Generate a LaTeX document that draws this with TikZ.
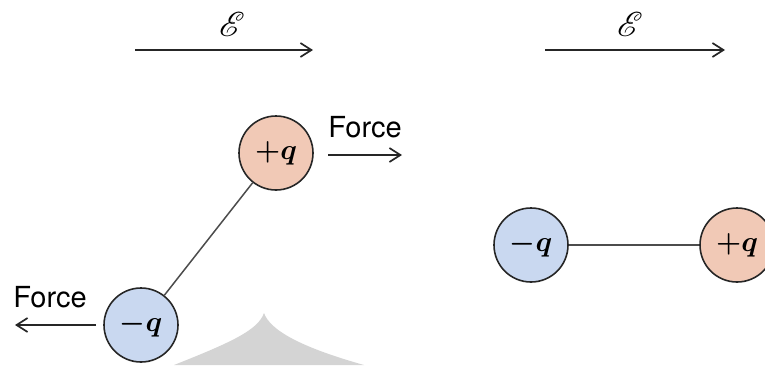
\documentclass[tikz,border=0pt]{standalone}
\usepackage{fontspec}
\setsansfont{TeX Gyre Heros}
\usepackage{mathrsfs}
\usetikzlibrary{arrows.meta}
\definecolor{poscol}{HTML}{F1C9B6}
\definecolor{negcol}{HTML}{C9D8F0}
\begin{document}
\begin{tikzpicture}[x=0.5pt,y=-0.5pt,
  charge/.style={circle,draw=black!85,line width=0.8pt,minimum size=37pt,inner sep=0pt,font=\fontsize{15}{17}\selectfont\boldmath},
  poscharge/.style={charge,fill=poscol},
  negcharge/.style={charge,fill=negcol},
  farrow/.style={draw=black!85,line width=0.85pt,-{Straight Barb[length=5.5pt,width=7pt]}},
  lbl/.style={inner sep=0pt,font=\sffamily\fontsize{14.5}{16}\selectfont},
  elbl/.style={inner sep=0pt,font=\fontsize{16}{18}\selectfont\boldmath},
  rod/.style={draw=black!70,line width=0.75pt}]
\useasboundingbox (0,0) rectangle (765,365);
\fill[black!17] (174,365) .. controls (232,342) and (258,330) .. (264,313) .. controls (270,330) and (300,347) .. (364,365) -- cycle;
% field arrows
\coordinate (e1s) at (135,50); \coordinate (e1e) at (313,50);
\coordinate (e2s) at (545,50); \coordinate (e2e) at (725,50);
\draw[farrow] (e1s) -- (e1e);
\draw[farrow] (e2s) -- (e2e);
\node[elbl] (E1) at (232,24) {$\mathscr{E}$};
\node[elbl] (E2) at (630,24) {$\mathscr{E}$};
% left dipole
\node[poscharge] (p1) at (276,153) {$+q$};
\node[negcharge] (n1) at (141,325) {$-q$};
\draw[rod] (p1) -- (n1);
\node[lbl] (f1) at (365,127) {Force};
\coordinate (f1s) at (328,155); \coordinate (f1e) at (402,155);
\draw[farrow] (f1s) -- (f1e);
\node[lbl] (f2) at (50,297) {Force};
\coordinate (f2s) at (96,325); \coordinate (f2e) at (15,325);
\draw[farrow] (f2s) -- (f2e);
% right dipole
\node[negcharge] (n2) at (531,245) {$-q$};
\node[poscharge] (p2) at (737,245) {$+q$};
\draw[rod] (n2) -- (p2);
\end{tikzpicture}
\end{document}
